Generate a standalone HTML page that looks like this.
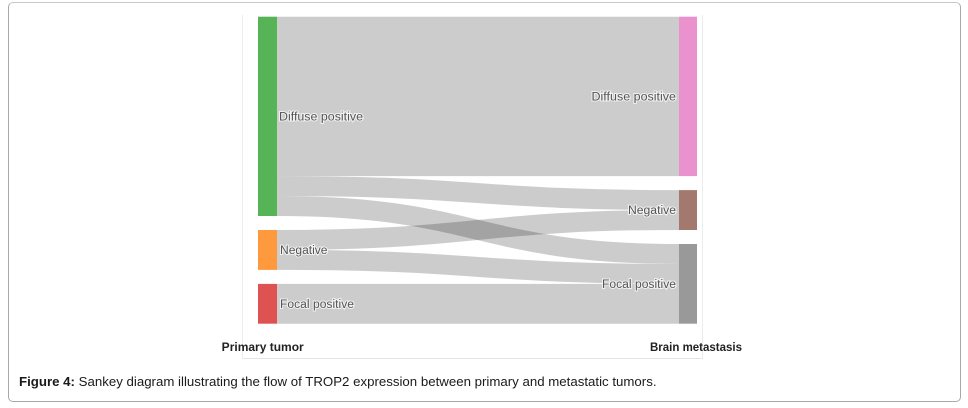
<!DOCTYPE html>
<html>
<head>
<meta charset="utf-8">
<style>
  html, body { margin: 0; padding: 0; background: #fff; }
  body { width: 968px; height: 408px; position: relative; overflow: hidden; font-family: "Liberation Sans", Arial, sans-serif; }
  .frame { position: absolute; left: 8px; top: 2px; width: 951px; height: 398px; border: 1px solid #a8a8a8; border-top-color: #c8c8c8; border-radius: 5px; }
  svg { position: absolute; left: 0; top: 0; }
  .caption { position: absolute; left: 19px; top: 374px; font-size: 13.25px; line-height: 15px; color: #1a1a1a; white-space: nowrap; }
  .caption b { font-weight: bold; }
</style>
</head>
<body>
<div class="frame"></div>
<svg width="968" height="408" viewBox="0 0 968 408" xmlns="http://www.w3.org/2000/svg">
  <!-- chart panel border -->
  <line x1="242.5" y1="15" x2="242.5" y2="358.5" stroke="#ececec" stroke-width="1"/>
  <line x1="702.5" y1="15" x2="702.5" y2="358.5" stroke="#ececec" stroke-width="1"/>
  <line x1="242.5" y1="358.5" x2="702.5" y2="358.5" stroke="#e4e4e4" stroke-width="1"/>

  <!-- links -->
  <g fill="none" stroke="#000" stroke-opacity="0.2">
    <path d="M277,96.4 C478,96.4 478,96.4 679,96.4" stroke-width="159.4"/>
    <path d="M277,186.05 C478,186.05 478,200.05 679,200.05" stroke-width="19.93"/>
    <path d="M277,206 C478,206 478,253.95 679,253.95" stroke-width="19.93"/>
    <path d="M277,239.95 C478,239.95 478,220 679,220" stroke-width="19.93"/>
    <path d="M277,259.9 C478,259.9 478,273.9 679,273.9" stroke-width="19.93"/>
    <path d="M277,303.8 C478,303.8 478,303.8 679,303.8" stroke-width="39.9"/>
  </g>

  <!-- nodes -->
  <rect x="258" y="16.7" width="19" height="199.3" fill="#56b356"/>
  <rect x="258" y="230" width="19" height="39.9" fill="#ff993e"/>
  <rect x="258" y="283.9" width="19" height="39.8" fill="#de5252"/>
  <rect x="679" y="16.7" width="18" height="159.4" fill="#e992ce"/>
  <rect x="679" y="190.1" width="18" height="39.9" fill="#a3786f"/>
  <rect x="679" y="244" width="18" height="79.7" fill="#999999"/>

  <!-- node labels -->
  <g font-family="Liberation Sans, Arial, sans-serif" font-size="11.5" fill="#555" stroke="#fff" stroke-width="2" stroke-opacity="0.7" paint-order="stroke" dominant-baseline="central">
    <text x="279" y="117.5" textLength="84" lengthAdjust="spacingAndGlyphs">Diffuse positive</text>
    <text x="280" y="251" textLength="47.5" lengthAdjust="spacingAndGlyphs">Negative</text>
    <text x="280" y="304.8" textLength="74" lengthAdjust="spacingAndGlyphs">Focal positive</text>
    <text x="676" y="97.6" text-anchor="end" textLength="84.5" lengthAdjust="spacingAndGlyphs">Diffuse positive</text>
    <text x="676" y="211" text-anchor="end" textLength="48" lengthAdjust="spacingAndGlyphs">Negative</text>
    <text x="676" y="285" text-anchor="end" textLength="74" lengthAdjust="spacingAndGlyphs">Focal positive</text>
  </g>

  <!-- axis labels -->
  <g font-family="Liberation Sans, Arial, sans-serif" font-size="11.5" font-weight="bold" fill="#222">
    <text x="221.7" y="350.8" textLength="82" lengthAdjust="spacingAndGlyphs">Primary tumor</text>
    <text x="650" y="350.8" textLength="92" lengthAdjust="spacingAndGlyphs">Brain metastasis</text>
  </g>
</svg>
<div class="caption"><b>Figure 4:</b> Sankey diagram illustrating the flow of TROP2 expression between primary and metastatic tumors.</div>
</body>
</html>
